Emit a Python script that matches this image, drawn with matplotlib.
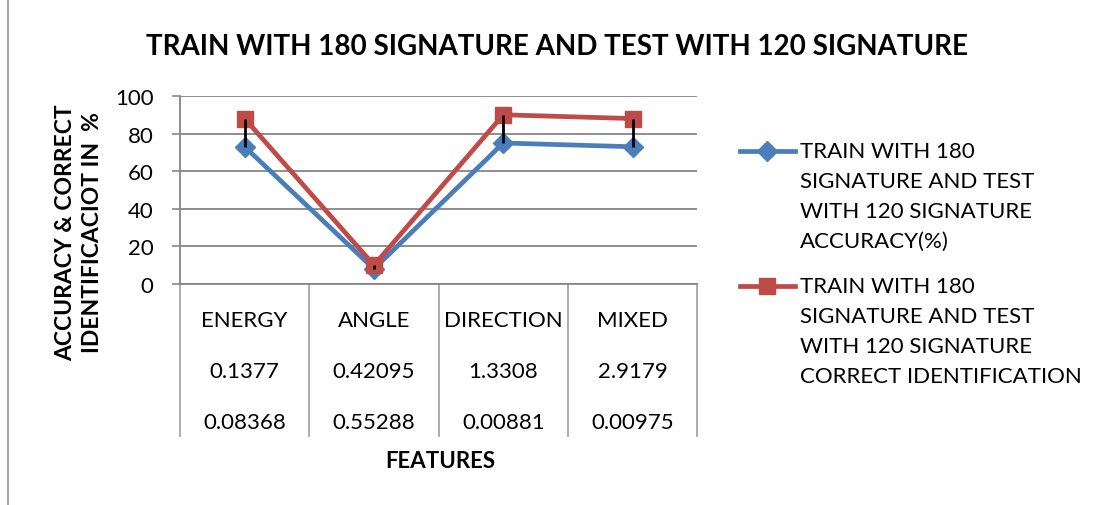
import numpy as np
import matplotlib.pyplot as plt
from matplotlib.transforms import blended_transform_factory

plt.rcParams['font.family'] = ['Lato', 'DejaVu Sans']

features = ['ENERGY', 'ANGLE', 'DIRECTION', 'MIXED']
row2 = ['0.1377', '0.42095', '1.3308', '2.9179']
row3 = ['0.08368', '0.55288', '0.00881', '0.00975']
accuracy = [73, 8, 75, 73]
correct_id = [88, 10, 90, 88]

label_acc = 'TRAIN WITH 180\nSIGNATURE AND TEST\nWITH 120 SIGNATURE\nACCURACY(%)'
label_cid = 'TRAIN WITH 180\nSIGNATURE AND TEST\nWITH 120 SIGNATURE\nCORRECT IDENTIFICATION'

blue = '#4A7EBB'
red = '#BE4B48'
grid = '#868686'
W, H = 1099, 506

fig = plt.figure(figsize=(10.99, 5.06), dpi=100)
ax = fig.add_axes([0.1638, 0.4368, 0.4706, 0.3715])

x = np.arange(len(features))

# high-low lines between the two series
ax.vlines(x, accuracy, correct_id, colors='black', lw=2, zorder=5)

ax.plot(x, accuracy, color=blue, lw=3.4, marker='D', ms=10, zorder=3)
ax.plot(x, correct_id, color=red, lw=3.4, marker='s', ms=11, zorder=4)

ax.set_xlim(-0.5, 3.5)
ax.set_ylim(0, 100)
ax.set_yticks(range(0, 101, 20))
ax.tick_params(axis='y', labelsize=16, length=6, color=grid, width=1.2, pad=13)
ax.set_xticks([])
ax.grid(axis='y', color=grid, lw=1.3)
ax.set_axisbelow(True)
for s in ['top', 'right']:
    ax.spines[s].set_visible(False)
for s in ['left', 'bottom']:
    ax.spines[s].set_color(grid)
    ax.spines[s].set_linewidth(1.3)

# multi-row category table under the axis
tr = blended_transform_factory(ax.transData, ax.transAxes)
for i in range(len(features) + 1):
    ax.plot([i - 0.5, i - 0.5], [0, -0.81], transform=tr, color='#A6A6A6',
            lw=1.3, clip_on=False)
rows_y = [-0.191, -0.463, -0.734]
for rows, yy in zip([features, row2, row3], rows_y):
    for i, t in enumerate(rows):
        ax.text(i, yy, t, transform=tr, ha='center', va='center', fontsize=16)

fig.text(79 / W, 1 - 233 / H, 'ACCURACY & CORRECT\nIDENTIFICACIOT IN  %',
         rotation=90, ha='center', va='center', fontsize=16.5, fontweight='bold',
         linespacing=1.3)
fig.text(440 / W, 1 - 462 / H, 'FEATURES', ha='center', va='center',
         fontsize=16, fontweight='bold')
fig.text(557 / W, 1 - 47 / H, 'TRAIN WITH 180 SIGNATURE AND TEST WITH 120 SIGNATURE',
         ha='center', va='center', fontsize=20, fontweight='bold')

# legend drawn by hand so the key sits on the first text line
for label, color, mk, ms, ykey in [(label_acc, blue, 'D', 10, 152),
                                   (label_cid, red, 's', 11, 287)]:
    yf = 1 - ykey / H
    fig.add_artist(plt.Line2D([740 / W, 795 / W], [yf, yf], color=color, lw=3.4))
    fig.add_artist(plt.Line2D([767 / W], [yf], color=color, marker=mk, ms=ms))
    fig.text(800 / W, 1 - (ykey - 10) / H, label, ha='left', va='top', fontsize=16,
             linespacing=1.62, transform=fig.transFigure)

# outer chart border
fig.add_artist(plt.Line2D([8 / W, 8 / W], [0, 1], color='#A6A6A6', lw=1.5))

fig.savefig('out.png', dpi=100)
